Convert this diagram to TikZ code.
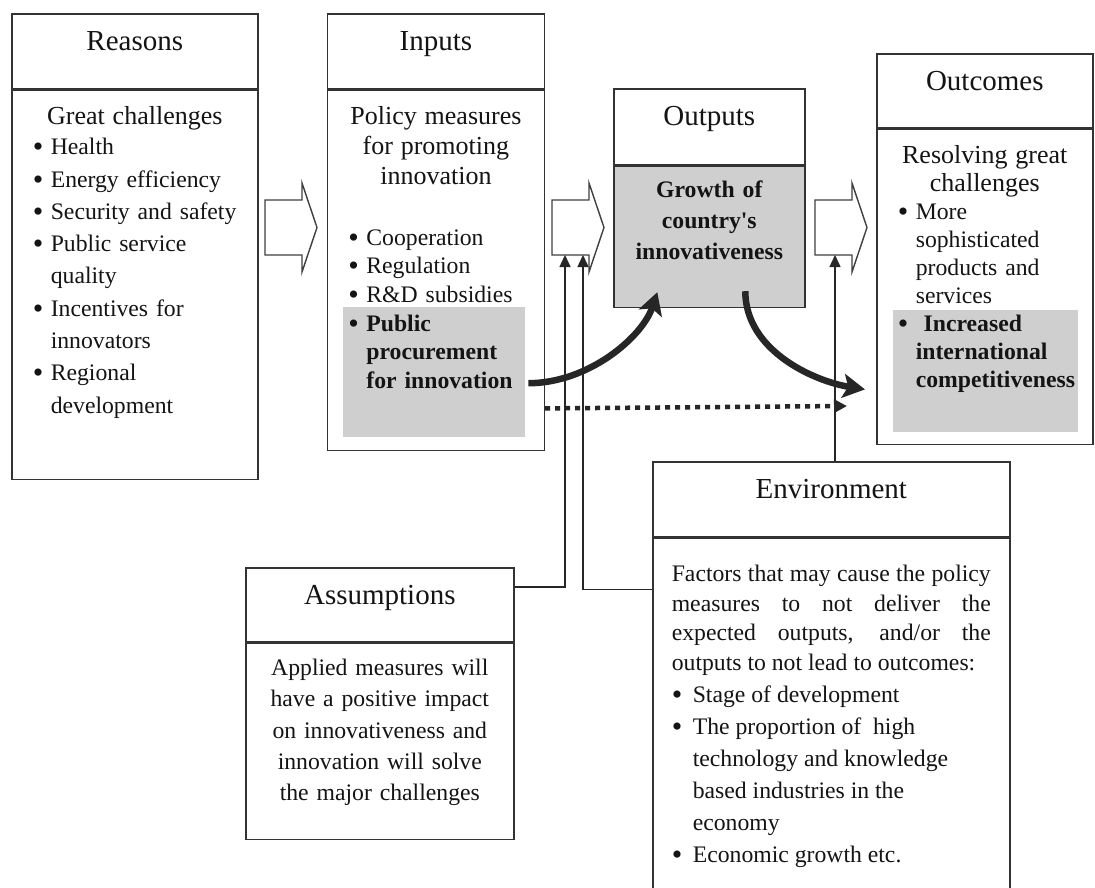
\documentclass[tikz,border=0pt]{standalone}
\usepackage{fontspec}
\setmainfont{Liberation Serif}
\usepackage{tikz}
\usetikzlibrary{positioning}
\usetikzlibrary{arrows.meta}

\newcommand{\headfont}{\fontsize{29pt}{34pt}\selectfont}
\newcommand{\bodyfont}[1]{\fontsize{23.7pt}{#1}\selectfont}
\newcommand{\subfont}[1]{\fontsize{26pt}{#1}\selectfont}
\newlength{\bulw}
\setlength{\bulw}{18pt}
\newcommand{\bul}{\par\noindent\hangindent=\bulw\hangafter=1%
  \makebox[\bulw][l]{\raisebox{-2pt}{\fontsize{30pt}{30pt}\selectfont\textbullet}}}
% hollow block arrow: name of its lower left corner, left x
\newcommand{\blockarrow}[2]{%
  \draw[blockarr] (#2,200) -- ++(37,0) -- ++(0,-17) -- ++(15,44.5)
    -- ++(-15,44.5) -- ++(0,-17) -- ++(-37,0) -- cycle;
  \coordinate (#1) at (#2,255);}

\tikzset{
  boxline/.style={draw=black!80, line width=1.6pt},
  headbox/.style={boxline, inner sep=0pt, text height=37pt, font=\headfont},
  bodybox/.style={boxline, inner xsep=21pt, inner ysep=0pt},
  hlbox/.style={fill=gray!38, inner sep=0pt, anchor=north west},
  blockarr/.style={draw=black!75, line width=1.4pt, fill=white},
  thinarr/.style={draw=black!85, line width=1.4pt, -{Triangle[length=12pt,width=11pt]}},
  thickarr/.style={draw=black!85, line width=6.5pt, -{Stealth[length=22pt,width=24pt,inset=5pt]}},
  dotarr/.style={draw=black!85, line width=4.5pt, dash pattern=on 5pt off 5pt, -{Triangle[length=13pt,width=13pt]}},
}

\begin{document}
\begin{tikzpicture}[x=1pt, y=-1pt, every node/.append style={text=black!92}]
    \fill[white] (0,0) rectangle (1095,887);
    \useasboundingbox (0,0) rectangle (1095,887);

    % Reasons
    \node[headbox, minimum width=246pt, text depth=38pt, anchor=north west] (reasonshead) at (11,13) {Reasons};
    \node[bodybox, below=0pt of reasonshead, text width=204pt, text height=34pt, text depth=355pt,
      font={\bodyfont{32.3pt}}] (reasonsbody)
      {{\centering\subfont{30pt}Great challenges\par}\vspace{-2pt}\raggedright
       \bul Health
       \bul Energy efficiency
       \bul Security and safety
       \bul Public service\newline quality
       \bul Incentives for\newline innovators
       \bul Regional\newline development\par};

    % Inputs
    \node[hlbox, minimum width=182pt, minimum height=130pt] (inhl) at (343,307) {};
    \node[headbox, minimum width=217pt, text depth=38pt, right=68pt of reasonshead] (inhead) {Inputs};
    \node[bodybox, below=0pt of inhead, text width=175pt, text height=34pt, text depth=326pt,
      font={\bodyfont{28.7pt}}] (inbody)
      {{\centering\subfont{30pt}Policy measures\\ for promoting\\ innovation\par}\vspace{32pt}\raggedright
       \bul Cooperation
       \bul Regulation
       \bul R\&D subsidies
       \bul\textbf{Public\newline procurement\newline for innovation}\par};

    % Outputs
    \node[headbox, minimum width=191pt, text depth=39pt, anchor=north west] (outhead) at (613,88) {Outputs};
    \node[bodybox, fill=gray!38, below=0pt of outhead, text width=149pt, text height=31pt, text depth=110pt,
      font={\bodyfont{31pt}}] (outbody)
      {\centering\bfseries Growth of\\ country\textquotesingle s\\ innovativeness\par};

    % Outcomes
    \node[hlbox, minimum width=185pt, minimum height=122pt] (outchl) at (893,310) {};
    \node[headbox, minimum width=216pt, text depth=37pt, anchor=north west] (outchead) at (876,53) {Outcomes};
    \node[bodybox, below=0pt of outchead, text width=174pt, text height=34pt, text depth=281pt,
      font={\bodyfont{28pt}}] (outcbody)
      {{\centering\subfont{28pt}Resolving great\\ challenges\par}\raggedright
       \bul More\newline sophisticated\newline products and\newline services
       \bul\ \textbf{Increased\newline international\newline competitiveness}\par};

    % Assumptions
    \node[headbox, minimum width=268pt, text depth=37pt, anchor=north west] (asshead) at (245,567) {Assumptions};
    \node[bodybox, below=0pt of asshead, text width=226pt, text height=32pt, text depth=164pt,
      font={\bodyfont{31.3pt}}] (assbody)
      {\centering Applied measures will\\ have a positive impact\\ on innovativeness and\\
       innovation will solve\\ the major challenges\par};

    % Environment
    \node[headbox, minimum width=357pt, text depth=38pt, anchor=north west] (envhead) at (652,461) {Environment};
    \node[bodybox, inner xsep=19pt, below=0pt of envhead, text width=319pt, text height=43pt, text depth=327pt,
      align=justify, font={\bodyfont{29.7pt}}] (envbody)
      {Factors that may cause the policy\linebreak measures to not deliver the\linebreak
       expected outputs, and/or the\linebreak outputs to not lead to outcomes:\par
       \bodyfont{32pt}\raggedright\setlength{\bulw}{21pt}%
       \bul Stage of development
       \bul The proportion of\ \ high\newline technology and knowledge\newline based industries in the\newline economy
       \bul Economic growth etc.\par};

    % hollow arrows between the stages
    \blockarrow{arrA}{265}
    \blockarrow{arrB}{552}
    \blockarrow{arrC}{815}
    \coordinate (tipass) at ([xshift=13pt]arrB);
    \coordinate (tipenv) at ([xshift=31pt]arrB);
    \coordinate (tipout) at ([xshift=20pt]arrC);

    % influences from below
    \draw[thinarr] ([yshift=-20pt]asshead.north east) -| (tipass);
    \draw[thinarr] ([yshift=-52pt]envbody.north west) -| (tipenv);
    \draw[thinarr] (envhead.north -| tipout) -- (tipout);

    % procurement path
    \coordinate (dotend) at (847,406);
    \draw[thickarr] ([xshift=3pt,yshift=-11pt]inhl.east) .. controls +(60,0) and +(-15,45) .. ([xshift=-52pt,yshift=16pt]outbody.south);
    \draw[thickarr] ([xshift=36pt,yshift=17pt]outbody.south) .. controls +(0,60) and +(-50,-8) .. ([xshift=-11pt,yshift=-102.5pt]outcbody.west);
    \draw[dotarr] ([yshift=-138pt]inbody.east) -- (dotend);
\end{tikzpicture}
\end{document}
